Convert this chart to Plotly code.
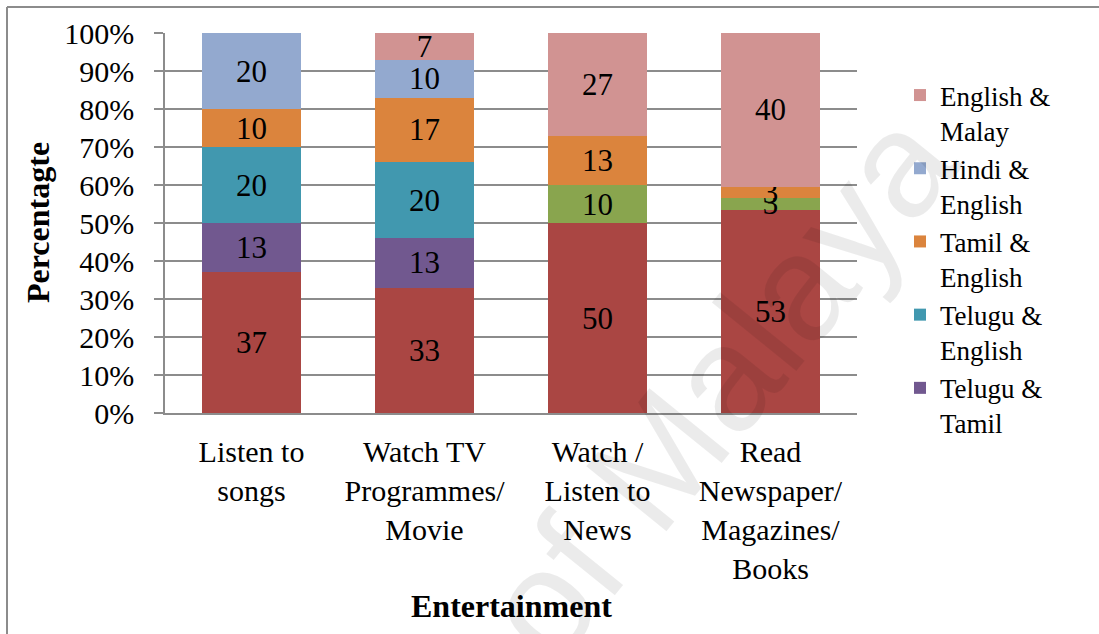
import plotly.graph_objects as go

categories = ["Listen to<br>songs", "Watch TV<br>Programmes/<br>Movie",
              "Watch /<br>Listen to<br>News", "Read<br>Newspaper/<br>Magazines/<br>Books"]

# series from bottom of stack to top
series_names = ["Tamil", "Malay & English", "Telugu &<br>Tamil", "Telugu &<br>English",
                "Tamil &<br>English", "Hindi &<br>English", "English &<br>Malay"]
s_red = [37, 33, 50, 53]
s_green = [None, None, 10, 3]
s_purple = [13, 13, None, None]
s_teal = [20, 20, None, None]
s_orange = [10, 17, 13, 3]
s_blue = [20, 10, None, None]
s_pink = [None, 7, 27, 40]
series_values = [s_red, s_green, s_purple, s_teal, s_orange, s_blue, s_pink]
series_colors = ["#AA4643", "#89A54E", "#71588F", "#4198AF", "#DB843D", "#93A9CF", "#D19392"]
show_in_legend = [False, False, True, True, True, True, True]

y_ticks = [0, 10, 20, 30, 40, 50, 60, 70, 80, 90, 100]
y_tick_labels = [f"{v}%" for v in y_ticks]

FONT = "Liberation Serif"

fig = go.Figure()
for name, vals, col, sl in zip(series_names, series_values, series_colors, show_in_legend):
    fig.add_trace(go.Bar(
        x=categories, y=vals, name=name, marker=dict(color=col, line=dict(width=0)),
        text=[("" if v is None else str(v)) for v in vals],
        textposition="inside", insidetextanchor="middle", textangle=0,
        constraintext="none",
        textfont=dict(family=FONT, size=31, color="black"),
        showlegend=sl, width=0.575,
    ))

L, R, T, B = 165, 242, 33, 221
W, H = 1099, 634
pw, ph = W - L - R, H - T - B

fig.update_layout(
    width=W, height=H,
    barmode="stack", barnorm="percent",
    margin=dict(l=L, r=R, t=T, b=B, autoexpand=False),
    paper_bgcolor="white", plot_bgcolor="white",
    font=dict(family=FONT, size=28, color="black"),
    legend=dict(x=(900 - L) / pw, xanchor="left", y=1 - (71 - T) / ph, yanchor="top",
                traceorder="reversed", valign="top", font=dict(family=FONT, size=27),
                itemsizing="constant", tracegroupgap=0, bgcolor="rgba(0,0,0,0)",
                maxheight=600),
    xaxis=dict(showgrid=False, showline=True, linecolor="#8c8c8c", linewidth=1.5,
               ticks="outside", ticklen=11, tickcolor="rgba(0,0,0,0)",
               tickfont=dict(family=FONT, size=30), automargin=False),
    yaxis=dict(range=[0, 100], tickvals=y_ticks, ticktext=y_tick_labels,
               showgrid=True, gridcolor="#8c8c8c", gridwidth=1.5,
               showline=True, linecolor="#8c8c8c", linewidth=1.5,
               ticks="outside", ticklen=9, tickcolor="#8c8c8c", tickwidth=1.5,
               ticklabelstandoff=14, tickfont=dict(family=FONT, size=30), automargin=False,
               zeroline=False),
    annotations=[
        dict(text="of Malaya", xref="paper", yref="paper",
             x=(718 - L) / pw, y=1 - (385 - T) / ph, textangle=-51, showarrow=False,
             xanchor="center", yanchor="middle",
             font=dict(family="Liberation Sans", size=150, color="rgba(0,0,0,0.08)")),
        dict(text="<b>Percentagte</b>", xref="paper", yref="paper",
             x=(38 - L) / pw, y=0.5, textangle=-90, showarrow=False,
             xanchor="center", yanchor="middle", font=dict(family=FONT, size=32)),
        dict(text="<b>Entertainment</b>", xref="paper", yref="paper",
             x=0.5, y=-(606 - (T + ph)) / ph, showarrow=False,
             xanchor="center", yanchor="middle", font=dict(family=FONT, size=32)),
    ],
    shapes=[
        dict(type="line", xref="paper", yref="paper",
             x0=(7 - L) / pw, x1=(7 - L) / pw, y0=1 + (T - 7) / ph, y1=-(H + 10 - T - ph) / ph,
             line=dict(color="#8c8c8c", width=2)),
        dict(type="line", xref="paper", yref="paper",
             x0=(7 - L) / pw, x1=(W + 10 - L) / pw, y0=1 + (T - 7) / ph, y1=1 + (T - 7) / ph,
             line=dict(color="#8c8c8c", width=2)),
    ],
)

fig.write_html("out.html", config={"displayModeBar": False},
               post_script="document.body.style.margin='0px';document.body.style.overflow='hidden';")
